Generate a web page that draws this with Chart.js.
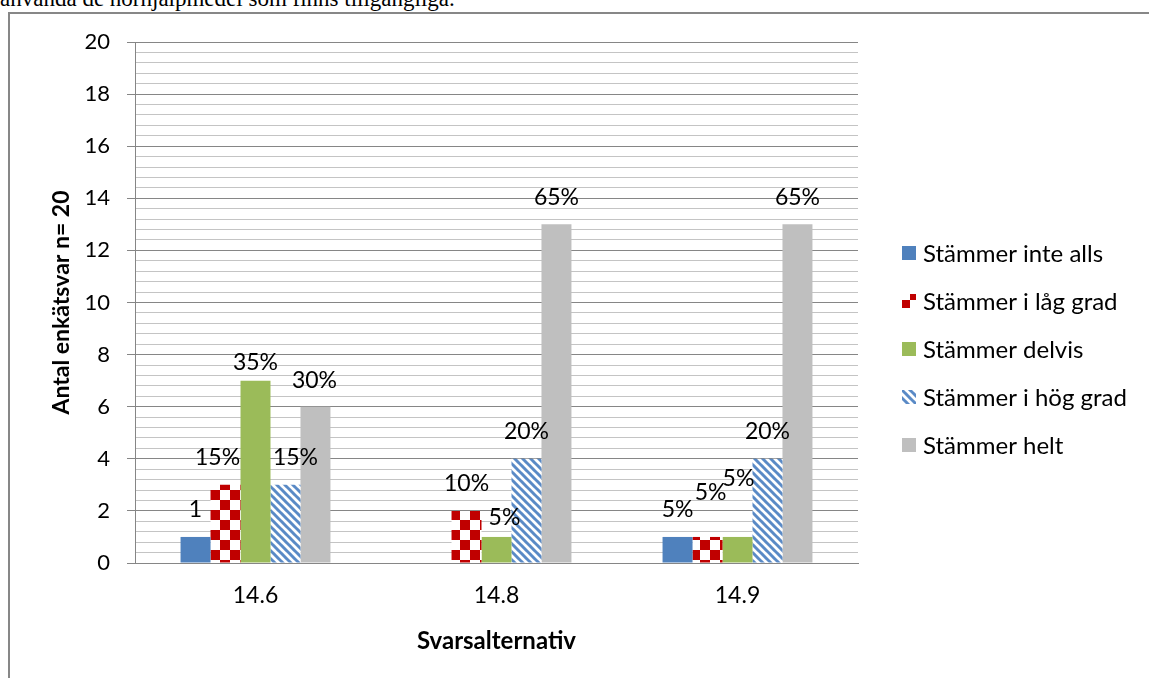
<!DOCTYPE html>
<html lang="sv">
<head>
  <meta charset="UTF-8">
  <title>Svarsalternativ</title>
  <script src="https://cdn.jsdelivr.net/npm/chart.js"></script>
  <style>
    html, body {
      margin: 0;
      padding: 0;
      width: 1149px;
      height: 678px;
      overflow: hidden;
      background: #fff;
    }
    .intro {
      position: absolute;
      left: 0;
      top: -13px;
      font-family: 'Liberation Serif', 'Times New Roman', serif;
      font-size: 23px;
      line-height: 23px;
      color: #000;
      white-space: nowrap;
    }
    .frame {
      position: absolute;
      left: 8px;
      top: 12px;
      width: 1200px;
      height: 800px;
      border: 2px solid #878787;
    }
    #chart {
      position: absolute;
      left: 0;
      top: 0;
    }
  </style>
</head>
<body>
  <div class="intro">använda de hörhjälpmedel som finns tillgängliga.</div>
  <div class="frame"></div>
  <canvas id="chart" width="1149" height="678"></canvas>

  <script>
    // data
    const categories = ['14.6', '14.8', '14.9'];
    const seriesNames = ['Stämmer inte alls', 'Stämmer i låg grad', 'Stämmer delvis', 'Stämmer i hög grad', 'Stämmer helt'];

    const inteAlls = [1, 0, 1];
    const lagGrad = [3, 2, 1];
    const delvis = [7, 1, 1];
    const hogGrad = [3, 4, 4];
    const helt = [6, 13, 13];

    const inteAllsLabels = ['1', '', '5%'];
    const lagGradLabels = ['15%', '10%', '5%'];
    const delvisLabels = ['35%', '5%', '5%'];
    const hogGradLabels = ['15%', '20%', '20%'];
    const heltLabels = ['30%', '65%', '65%'];

    const yTicks = ['0', '2', '4', '6', '8', '10', '12', '14', '16', '18', '20'];

    // labels that were dragged by hand in the original (dx, dy in px)
    const labelNudge = [
      [[0, 0], [0, 0], [0, 0]],
      [[-8, 0], [0, 0], [3, -17]],
      [[0, 9], [8, 8], [1, -31]],
      [[10, 0], [0, 0], [0, 0]],
      [[-1, 1], [0, 0], [0, 0]]
    ];

    const FONT = 'Lato, Carlito, sans-serif';

    function checkerPattern() {
      const c = document.createElement('canvas');
      c.width = 20; c.height = 20;
      const g = c.getContext('2d');
      g.fillStyle = '#ffffff';
      g.fillRect(0, 0, 20, 20);
      g.fillStyle = '#c00000';
      g.fillRect(0, 0, 10, 10);
      g.fillRect(10, 10, 10, 10);
      return g.createPattern(c, 'repeat');
    }

    function hatchPattern() {
      const c = document.createElement('canvas');
      c.width = 8; c.height = 8;
      const g = c.getContext('2d');
      g.fillStyle = '#ffffff';
      g.fillRect(0, 0, 8, 8);
      g.strokeStyle = '#5a8ac6';
      g.lineWidth = 3;
      for (let k = -1; k <= 1; k++) {
        g.beginPath();
        g.moveTo(k * 8 - 1, -1);
        g.lineTo(k * 8 + 9, 9);
        g.stroke();
      }
      return g.createPattern(c, 'repeat');
    }

    const fills = ['#4f81bd', checkerPattern(), '#9bbb59', hatchPattern(), '#bfbfbf'];
    const values = [inteAlls, lagGrad, delvis, hogGrad, helt];
    const valueLabels = [inteAllsLabels, lagGradLabels, delvisLabels, hogGradLabels, heltLabels];

    const isMajor = v => Math.abs(v / 2 - Math.round(v / 2)) < 1e-6;

    const barLabels = {
      id: 'barLabels',
      afterDatasetsDraw(chart) {
        const ctx = chart.ctx;
        ctx.save();
        ctx.font = '23px ' + FONT;
        ctx.fillStyle = '#000';
        ctx.textAlign = 'center';
        ctx.textBaseline = 'middle';
        chart.data.datasets.forEach((ds, i) => {
          chart.getDatasetMeta(i).data.forEach((bar, j) => {
            const txt = valueLabels[i][j];
            if (!txt) return;
            const n = labelNudge[i][j];
            ctx.fillText(txt, bar.x + n[0], bar.y - 27 + n[1]);
          });
        });
        ctx.restore();
      }
    };

    const sideLegend = {
      id: 'sideLegend',
      afterDraw(chart) {
        const ctx = chart.ctx;
        ctx.save();
        ctx.font = '24px ' + FONT;
        ctx.textBaseline = 'middle';
        chart.data.datasets.forEach((ds, i) => {
          const y = 253 + i * 48;
          ctx.fillStyle = ds.backgroundColor;
          ctx.fillRect(902, y - 7, 14, 14);
          ctx.fillStyle = '#000';
          ctx.fillText(ds.label, 923, y + 1);
        });
        ctx.restore();
      }
    };

    new Chart(document.getElementById('chart'), {
      type: 'bar',
      data: {
        labels: categories,
        datasets: values.map((vals, i) => ({
          label: seriesNames[i],
          data: vals,
          backgroundColor: fills[i],
          borderWidth: 0
        }))
      },
      options: {
        responsive: false,
        animation: false,
        categoryPercentage: 0.622,
        barPercentage: 1,
        layout: { padding: { left: 0, top: 42, right: 291, bottom: 0 } },
        plugins: {
          legend: { display: false },
          tooltip: { enabled: false }
        },
        scales: {
          x: {
            grid: { display: false, drawTicks: false },
            border: { color: '#868686', width: 1 },
            ticks: { color: '#000', font: { family: FONT, size: 23 }, padding: 19 },
            title: {
              display: true,
              text: 'Svarsalternativ',
              color: '#000',
              font: { family: FONT, size: 24, weight: 'bold' },
              padding: { top: 0, bottom: 22 }
            },
            afterFit(s) { s.height = 115; }
          },
          y: {
            min: 0,
            max: 20,
            ticks: {
              stepSize: 0.4,
              maxTicksLimit: 100,
              autoSkip: false,
              color: '#000',
              padding: 17,
              font: { family: FONT, size: 22 },
              callback: v => isMajor(v) ? yTicks[Math.round(v / 2)] : ''
            },
            grid: {
              color: c => (c.tick && isMajor(c.tick.value)) ? '#868686' : '#c4c4c4',
              tickColor: c => (c.tick && isMajor(c.tick.value)) ? '#868686' : 'rgba(0,0,0,0)',
              tickLength: 8
            },
            border: { color: '#868686', width: 1 },
            title: {
              display: true,
              text: 'Antal enkätsvar n= 20',
              color: '#000',
              font: { family: FONT, size: 23, weight: 'bold' },
              padding: { top: 48, bottom: 0 }
            },
            afterFit(s) { s.width = 135; }
          }
        }
      },
      plugins: [barLabels, sideLegend]
    });
  </script>
</body>
</html>
